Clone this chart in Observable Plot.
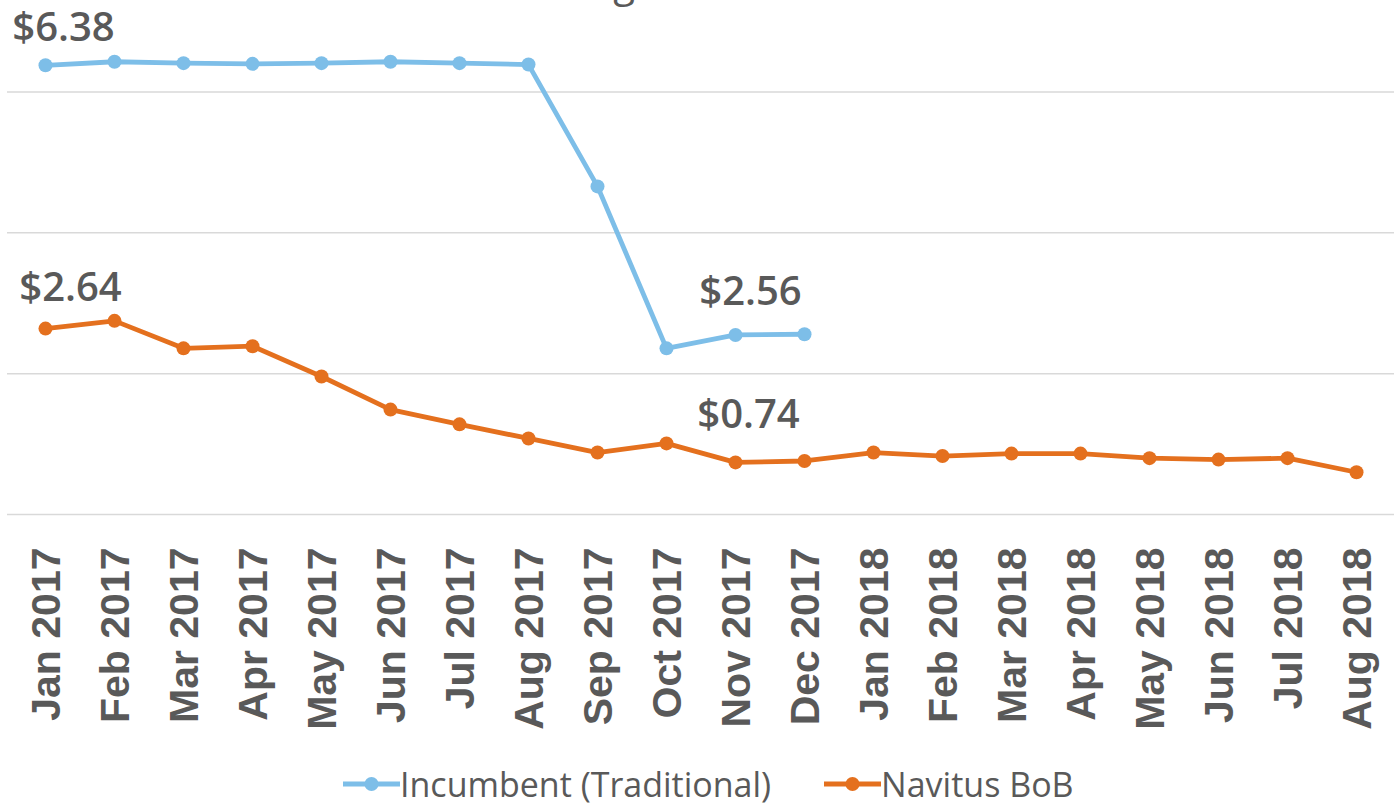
<!DOCTYPE html>
<html><head><meta charset="utf-8">
<script src="https://cdn.jsdelivr.net/npm/d3@7"></script>
<script src="https://cdn.jsdelivr.net/npm/@observablehq/plot@0.6"></script>
<style>
body{margin:0;background:#fff;}
#wrap{position:relative;width:1394px;height:807px;overflow:hidden;background:#fff;}
#title{position:absolute;left:0;top:-38px;width:1394px;text-align:center;font:400 40px/40px "Open Sans";color:#595959;padding-right:6px;box-sizing:border-box;white-space:nowrap;z-index:2;}
#chart{position:absolute;left:0;top:0;}
#legend{position:absolute;left:343px;top:764px;display:flex;align-items:center;font:400 34px/40px "Open Sans";color:#595959;white-space:nowrap;}
.item{display:flex;align-items:center;}
.item + .item{margin-left:53px;}
</style></head>
<body>
<div id="wrap">
  <div id="chart"></div>
  <div id="title">Average Cost PMPM</div>
  <div id="legend"></div>
</div>
<script>
const months = ["Jan 2017","Feb 2017","Mar 2017","Apr 2017","May 2017","Jun 2017","Jul 2017","Aug 2017","Sep 2017","Oct 2017","Nov 2017","Dec 2017","Jan 2018","Feb 2018","Mar 2018","Apr 2018","May 2018","Jun 2018","Jul 2018","Aug 2018"];
const incumbent = [6.38, 6.43, 6.41, 6.40, 6.41, 6.43, 6.41, 6.39, 4.66, 2.36, 2.55, 2.56];
const navitus = [2.64, 2.75, 2.36, 2.39, 1.96, 1.49, 1.28, 1.08, 0.88, 1.01, 0.74, 0.76, 0.88, 0.83, 0.865, 0.865, 0.80, 0.78, 0.80, 0.60];
const seriesNames = ["Incumbent (Traditional)", "Navitus BoB"];
const seriesColors = ["#7DBEE8", "#E4701E"];
const gridTicks = [0, 2, 4, 6];

const incData = incumbent.map((v, i) => ({month: months[i], value: v}));
const navData = navitus.map((v, i) => ({month: months[i], value: v}));
const fmt = d => "$" + d.value.toFixed(2);
const labelStyle = {x: "month", y: "value", text: fmt, fontFamily: "Open Sans", fontSize: 40, fontWeight: 600, fill: "#595959"};

const chart = Plot.plot({
  width: 1394, height: 730,
  marginTop: 0, marginLeft: 7, marginRight: 0, marginBottom: 216,
  style: {color: "#595959", background: "white", overflow: "visible"},
  x: {type: "point", domain: months, padding: 0.5},
  y: {domain: [0, 7.3], axis: null},
  marks: [
    Plot.gridY(gridTicks, {stroke: "#d9d9d9", strokeOpacity: 1, strokeWidth: 1.5}),
    Plot.axisX({tickRotate: -90, tickSize: 0, tickPadding: 33, fontSize: 41, fontWeight: "bold", fontFamily: "Liberation Sans, Arial, sans-serif", dx: 1, label: null}),
    Plot.line(incData, {x: "month", y: "value", stroke: seriesColors[0], strokeWidth: 4.8, strokeLinejoin: "round"}),
    Plot.dot(incData, {x: "month", y: "value", r: 7, fill: seriesColors[0], stroke: "none"}),
    Plot.line(navData, {x: "month", y: "value", stroke: seriesColors[1], strokeWidth: 4.8, strokeLinejoin: "round"}),
    Plot.dot(navData, {x: "month", y: "value", r: 7, fill: seriesColors[1], stroke: "none"}),
    Plot.text([incData[0]], {...labelStyle, dx: 18, dy: -37}),
    Plot.text([incData[11]], {...labelStyle, dx: -54, dy: -42}),
    Plot.text([navData[0]], {...labelStyle, dx: 25, dy: -40}),
    Plot.text([navData[10]], {...labelStyle, dx: 13, dy: -47})
  ]
});
document.getElementById("chart").appendChild(chart);

const legend = document.getElementById("legend");
seriesNames.forEach((name, i) => {
  const item = document.createElement("div");
  item.className = "item";
  item.innerHTML = `<svg width="57" height="20" style="display:block"><line x1="0" y1="10" x2="57" y2="10" stroke="${seriesColors[i]}" stroke-width="4.8"/><circle cx="28.5" cy="10" r="7" fill="${seriesColors[i]}"/></svg><span>${name}</span>`;
  legend.appendChild(item);
});
</script>
</body></html>
